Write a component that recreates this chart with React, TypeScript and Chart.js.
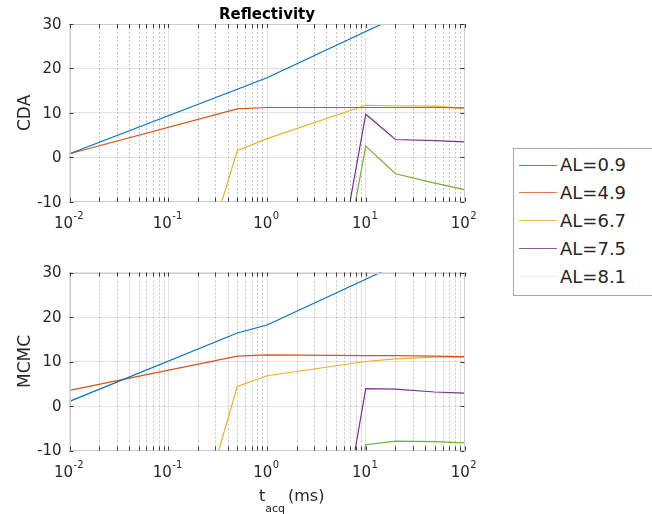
import React, { useEffect, useRef } from 'react';
import { Chart, registerables } from 'chart.js';

Chart.register(...registerables);

// ---------- data ----------
const tAcq = [0.01, 0.5, 1, 10, 20, 50, 100];
const seriesLabels = ['AL=0.9', 'AL=4.9', 'AL=6.7', 'AL=7.5', 'AL=8.1'];

// CDA (top panel)
const cdaAL09 = [0.8, 15.3, 17.9, 28.3, 31.4, null, null];
const cdaAL49 = [0.8, 10.9, 11.2, 11.2, 11.2, 11.2, 11.1];
const cdaAL67 = [-123, 1.5, 4.2, 11.7, 11.6, 11.5, 11.0];
const cdaAL75 = [null, null, -114, 9.7, 4.0, 3.75, 3.45];
const cdaAL81 = [null, null, -118, 2.5, -3.7, -5.8, -7.3];

// MCMC (bottom panel)
const mcmcAL09 = [1.05, 16.4, 18.2, 28.5, 31.6, null, null];
const mcmcAL49 = [3.5, 11.2, 11.5, 11.3, 11.3, 11.2, 11.1];
const mcmcAL67 = [-126, 4.4, 6.8, 10.0, 10.6, 11.0, 11.0];
const mcmcAL75 = [null, null, -124, 3.9, 3.8, 3.15, 2.9];
const mcmcAL81 = [null, null, -120, -8.7, -7.9, -8.0, -8.3];

// x ticks: 10^exponent
const xTickValues = [0.01, 0.1, 1, 10, 100];
const xTickBase = '10';
const xTickExponents = ['-2', '-1', '0', '1', '2'];
const yTickValues = [-10, 0, 10, 20, 30];

// ---------- styles ----------
const COLORS = ['#0072BD', '#D95319', '#EDB120', '#7E2F8E', '#77AC30'];
const LEGEND_COLORS = ['#3f8fc8', '#e07a52', '#e9c057', '#8a5f92', '#eef1ea'];
const FONT = '"DejaVu Sans", "Liberation Sans", sans-serif';
const TEXT = '#262626';

const minorValues: number[] = [];
for (let d = 0; d < xTickValues.length - 1; d++) {
  for (let k = 2; k <= 9; k++) minorValues.push(xTickValues[d] * k);
}

const toPoints = (ys: (number | null)[]) => tAcq.map((x, i) => ({ x, y: ys[i] }));

const matlabAxes = {
  id: 'matlabAxes',
  beforeDatasetsDraw(chart: any) {
    const { ctx, chartArea: a, scales } = chart;
    const x = scales.x;
    ctx.save();
    ctx.strokeStyle = '#c4c4c4';
    ctx.lineWidth = 1;
    ctx.setLineDash([2, 2]);
    for (const v of minorValues) {
      const px = Math.round(x.getPixelForValue(v)) + 0.5;
      ctx.beginPath();
      ctx.moveTo(px, a.top);
      ctx.lineTo(px, a.bottom);
      ctx.stroke();
    }
    ctx.restore();
  },
  afterDatasetsDraw(chart: any) {
    const { ctx, chartArea: a, scales } = chart;
    const x = scales.x;
    const y = scales.y;
    ctx.save();
    ctx.strokeStyle = '#cdcdcd';
    ctx.lineWidth = 1;
    ctx.strokeRect(Math.round(a.left) + 0.5, Math.round(a.top) + 0.5, Math.round(a.right - a.left) - 1, Math.round(a.bottom - a.top) - 1);
    ctx.strokeStyle = '#3a3a3a';
    const tl = 4;
    for (const v of [...minorValues, ...xTickValues]) {
      const px = Math.round(x.getPixelForValue(v)) + 0.5;
      ctx.beginPath();
      ctx.moveTo(px, a.top);
      ctx.lineTo(px, a.top + tl);
      ctx.moveTo(px, a.bottom);
      ctx.lineTo(px, a.bottom - tl);
      ctx.stroke();
    }
    for (const v of yTickValues) {
      const py = Math.round(y.getPixelForValue(v)) + 0.5;
      ctx.beginPath();
      ctx.moveTo(a.left, py);
      ctx.lineTo(a.left + tl, py);
      ctx.moveTo(a.right, py);
      ctx.lineTo(a.right - tl, py);
      ctx.stroke();
    }
    // x tick labels with superscript exponents
    ctx.fillStyle = TEXT;
    ctx.textBaseline = 'alphabetic';
    ctx.textAlign = 'left';
    xTickValues.forEach((v, i) => {
      const px = x.getPixelForValue(v);
      ctx.font = `15px ${FONT}`;
      const wb = ctx.measureText(xTickBase).width;
      ctx.font = `10px ${FONT}`;
      const we = ctx.measureText(xTickExponents[i]).width;
      const sx = px - (wb + we) / 2 - 1;
      ctx.font = `15px ${FONT}`;
      ctx.fillText(xTickBase, sx, a.bottom + 26.5);
      ctx.font = `10px ${FONT}`;
      ctx.fillText(xTickExponents[i], sx + wb + 0.5, a.bottom + 17);
    });
    ctx.restore();
  },
};

const xLabelPlugin = {
  id: 'xLabel',
  afterDraw(chart: any) {
    const opts = chart.options.plugins.xLabel;
    if (!opts || !opts.display) return;
    const { ctx, chartArea: a } = chart;
    ctx.save();
    ctx.fillStyle = TEXT;
    ctx.textBaseline = 'alphabetic';
    ctx.textAlign = 'left';
    const base = a.bottom + 50.5;
    let cx = (a.left + a.right) / 2 - 8;
    ctx.font = `16px ${FONT}`;
    ctx.fillText('t', cx, base);
    cx += ctx.measureText('t').width;
    ctx.font = `11px ${FONT}`;
    ctx.fillText('acq', cx, base + 11);
    cx += ctx.measureText('acq').width + 3;
    ctx.font = `16px ${FONT}`;
    ctx.fillText('(ms)', cx, base);
    ctx.restore();
  },
};

function makeConfig(series: (number | null)[][], yTitle: string, opts: { title?: string; xLabel?: boolean; xHeight: number; padTop: number }) {
  return {
    type: 'line' as const,
    data: {
      datasets: series.map((ys, i) => ({
        label: seriesLabels[i],
        data: toPoints(ys),
        borderColor: COLORS[i],
        backgroundColor: COLORS[i],
        borderWidth: 1.2,
        pointRadius: 0,
        tension: 0,
        spanGaps: false,
      })),
    },
    options: {
      responsive: false,
      animation: false as const,
      events: [],
      layout: { padding: { left: 0, right: 15.5, top: opts.padTop, bottom: 0 } },
      plugins: {
        legend: { display: false },
        tooltip: { enabled: false },
        title: {
          display: !!opts.title,
          text: opts.title || '',
          color: '#000',
          fullSize: false,
          font: { family: FONT, size: 15, weight: 'bold' as const },
          padding: { top: 6, bottom: 0 },
        },
        xLabel: { display: !!opts.xLabel },
      },
      scales: {
        x: {
          type: 'logarithmic' as const,
          min: 0.01,
          max: 100,
          afterBuildTicks: (scale: any) => {
            scale.ticks = xTickValues.map((v) => ({ value: v }));
          },
          afterFit: (scale: any) => {
            scale.height = opts.xHeight;
          },
          ticks: { display: false },
          grid: { color: '#e2e2e2', lineWidth: 1, drawTicks: false },
          border: { display: false },
        },
        y: {
          min: -10,
          max: 30,
          afterBuildTicks: (scale: any) => {
            scale.ticks = yTickValues.map((v) => ({ value: v }));
          },
          afterFit: (scale: any) => {
            scale.width = 69.5;
          },
          ticks: {
            padding: 8,
            labelOffset: 1,
            color: TEXT,
            font: { family: FONT, size: 15 },
          },
          grid: { color: '#e2e2e2', lineWidth: 1, drawTicks: false },
          border: { display: false },
          title: {
            display: true,
            text: yTitle,
            color: TEXT,
            font: { family: FONT, size: 17 },
            padding: { top: 15, bottom: 0 },
          },
        },
      },
    },
    plugins: [matlabAxes, xLabelPlugin],
  };
}

function Panel(props: { series: (number | null)[][]; yTitle: string; title?: string; xLabel?: boolean; top: number; height: number; xHeight: number; padTop: number }) {
  const ref = useRef<HTMLCanvasElement | null>(null);
  useEffect(() => {
    if (!ref.current) return;
    const chart = new Chart(ref.current, makeConfig(props.series, props.yTitle, { title: props.title, xLabel: props.xLabel, xHeight: props.xHeight, padTop: props.padTop }) as any);
    return () => chart.destroy();
  }, []);
  return (
    <canvas
      ref={ref}
      width={480}
      height={props.height}
      style={{ position: 'absolute', left: 0, top: props.top, width: 480, height: props.height }}
    />
  );
}

export default function App() {
  return (
    <div style={{ position: 'fixed', left: 0, top: 0, width: 652, height: 514, overflow: 'hidden', background: '#fff' }}>
      <Panel
        series={[cdaAL09, cdaAL49, cdaAL67, cdaAL75, cdaAL81]}
        yTitle="CDA"
        title="Reflectivity"
        top={0}
        height={248}
        xHeight={46.3}
        padTop={0}
      />
      <Panel
        series={[mcmcAL09, mcmcAL49, mcmcAL67, mcmcAL75, mcmcAL81]}
        yTitle="MCMC"
        xLabel
        top={248}
        height={266}
        xHeight={63.5}
        padTop={24.5}
      />
      <div
        style={{
          position: 'absolute',
          left: 513,
          top: 148,
          width: 170,
          height: 148,
          border: '1px solid #a6a6a6',
          boxSizing: 'border-box',
          background: '#fff',
        }}
      >
        {seriesLabels.map((l, i) => (
          <div
            key={l}
            style={{ position: 'absolute', left: 5, top: 16 + i * 27.9 - 12, height: 24, display: 'flex', alignItems: 'center' }}
          >
            <span style={{ display: 'inline-block', width: 38, height: 0, borderTop: `1px solid ${LEGEND_COLORS[i]}` }} />
            <span style={{ marginLeft: 3, font: `18px ${FONT}`, color: TEXT, lineHeight: '24px', whiteSpace: 'nowrap' }}>{l}</span>
          </div>
        ))}
      </div>
    </div>
  );
}
